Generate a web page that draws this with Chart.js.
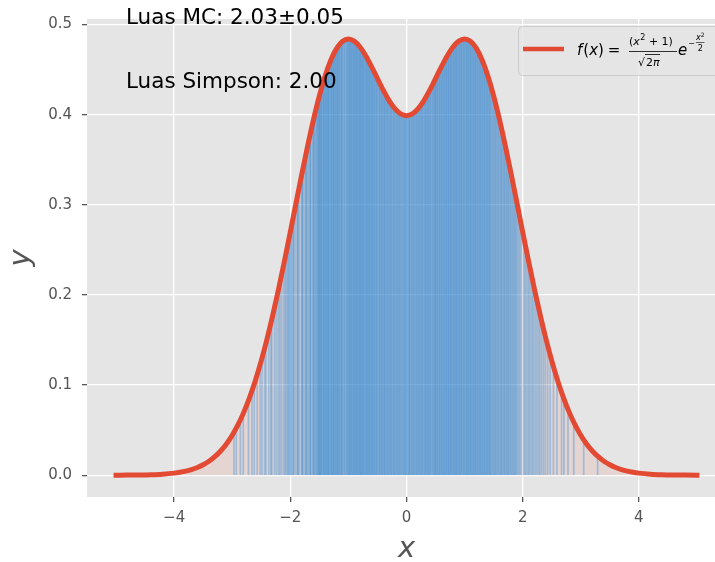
<!DOCTYPE html>
<html><head><meta charset="utf-8">
<script src="https://cdn.jsdelivr.net/npm/chart.js@4/dist/chart.umd.min.js"></script>
<style>html,body{margin:0;padding:0;background:#fff;overflow:hidden}#wrap{width:715px;height:562px;overflow:hidden;position:relative}canvas{display:block}</style>
</head><body><div id="wrap"><canvas id="c" width="726" height="562"></canvas></div>
<script>
// curve f(x) = (x^2+1)/sqrt(2pi) * exp(-x^2/2), sampled values
const curveX = [-5,-4.8,-4.6,-4.4,-4.2,-4,-3.9,-3.8,-3.7,-3.6,-3.5,-3.4,-3.3,-3.2,-3.1,-3,-2.9,-2.8,-2.7,-2.6,-2.5,-2.4,-2.3,-2.2,-2.1,-2,-1.9,-1.8,-1.7,-1.6,-1.5,-1.4,-1.3,-1.2,-1.1,-1,-0.9,-0.8,-0.7,-0.6,-0.5,-0.4,-0.3,-0.2,-0.1,0,0.1,0.2,0.3,0.4,0.5,0.6,0.7,0.8,0.9,1,1.1,1.2,1.3,1.4,1.5,1.6,1.7,1.8,1.9,2,2.1,2.2,2.3,2.4,2.5,2.6,2.7,2.8,2.9,3,3.1,3.2,3.3,3.4,3.5,3.6,3.7,3.8,3.9,4,4.2,4.4,4.6,4.8,5];
const curveY = [0.00004,0.00009,0.00022,0.00051,0.00110,0.00228,0.00322,0.00451,0.00624,0.00854,0.01156,0.01548,0.02048,0.02680,0.03466,0.04432,0.05601,0.06997,0.08639,0.10540,0.12708,0.15139,0.17817,0.20717,0.23795,0.26995,0.30249,0.33475,0.36585,0.39488,0.42093,0.44319,0.46098,0.47381,0.48145,0.48394,0.48162,0.47510,0.46526,0.45319,0.44008,0.42719,0.41571,0.40668,0.40092,0.39894,0.40092,0.40668,0.41571,0.42719,0.44008,0.45319,0.46526,0.47510,0.48162,0.48394,0.48145,0.47381,0.46098,0.44319,0.42093,0.39488,0.36585,0.33475,0.30249,0.26995,0.23795,0.20717,0.17817,0.15139,0.12708,0.10540,0.08639,0.06997,0.05601,0.04432,0.03466,0.02680,0.02048,0.01548,0.01156,0.00854,0.00624,0.00451,0.00322,0.00228,0.00110,0.00051,0.00022,0.00009,0.00004];

// x positions of accepted Monte Carlo samples
const mcX = [-2.97,-2.93,-2.86,-2.81,-2.72,-2.66,-2.62,-2.57,-2.52,
-2.487,-2.443,-2.419,-2.371,-2.336,-2.318,-2.274,-2.241,-2.207,-2.181,-2.152,-2.118,-2.093,-2.071,-2.046,-2.033,-2.012,
-1.994,-1.981,-1.952,-1.947,-1.921,-1.893,-1.871,-1.866,-1.838,-1.802,-1.797,-1.781,-1.755,-1.731,-1.728,-1.704,-1.689,-1.662,-1.659,-1.643,-1.618,-1.604,-1.597,-1.581,-1.566,-1.549,-1.538,-1.527,-1.511,-1.503,
-1.497,-1.484,-1.471,-1.468,-1.452,-1.439,-1.427,-1.421,-1.408,-1.393,-1.387,-1.372,-1.361,-1.349,-1.343,-1.331,-1.318,-1.302,-1.296,-1.284,-1.271,-1.262,-1.249,-1.241,-1.227,-1.214,-1.208,-1.191,-1.183,-1.176,-1.158,-1.149,-1.137,-1.122,-1.113,-1.104,-1.087,-1.072,-1.061,-1.043,-1.029,-1.018,-1.006,
-0.994,-0.981,-0.973,-0.962,-0.948,-0.939,-0.927,-0.913,-0.907,-0.894,-0.882,-0.871,-0.859,-0.851,-0.838,-0.826,-0.817,-0.803,-0.796,-0.784,-0.772,-0.761,-0.749,-0.741,-0.728,-0.716,-0.703,-0.694,-0.682,-0.671,-0.663,-0.648,-0.637,-0.629,-0.614,-0.603,-0.591,-0.583,-0.568,-0.556,-0.547,-0.531,-0.522,-0.509,
-0.496,-0.483,-0.469,-0.458,-0.447,-0.431,-0.423,-0.409,-0.396,-0.384,-0.371,-0.362,-0.348,-0.336,-0.321,-0.313,-0.298,-0.286,-0.271,-0.264,-0.249,-0.233,-0.221,-0.212,-0.197,-0.184,-0.169,-0.158,-0.146,-0.131,-0.122,-0.108,-0.094,-0.081,-0.067,-0.053,-0.041,-0.028,-0.014,-0.006,
0.008,0.021,0.037,0.046,0.059,0.074,0.088,0.097,0.113,0.126,0.138,0.151,0.167,0.178,0.192,0.204,0.217,0.231,0.243,0.256,0.268,0.279,0.294,0.307,0.318,0.333,0.342,0.357,0.369,0.381,0.394,0.406,0.419,0.433,0.447,0.458,0.471,0.486,0.493,
0.504,0.517,0.529,0.538,0.552,0.566,0.574,0.588,0.601,0.612,0.623,0.637,0.646,0.659,0.671,0.684,0.692,0.707,0.718,0.729,0.741,0.753,0.766,0.774,0.788,0.801,0.813,0.822,0.836,0.849,0.857,0.868,0.883,0.894,0.906,0.917,0.929,0.941,0.952,0.966,0.978,0.989,
1.003,1.014,1.027,1.039,1.048,1.062,1.073,1.086,1.097,1.109,1.121,1.132,1.146,1.157,1.168,1.181,1.193,1.204,1.217,1.228,1.241,1.253,1.266,1.277,1.288,1.302,1.313,1.326,1.337,1.349,1.362,1.374,1.386,1.397,1.411,1.423,1.436,1.448,1.461,1.478,1.492,
1.507,1.521,1.536,1.548,1.566,1.579,1.594,1.611,1.626,1.638,1.653,1.671,1.684,1.697,1.716,1.729,1.746,1.758,1.774,1.791,1.806,1.823,1.839,1.857,1.871,1.889,1.906,1.928,1.947,1.972,
2.013,2.038,2.061,2.089,2.112,2.137,2.164,2.186,2.214,2.243,2.271,2.296,2.327,2.359,2.392,2.431,2.474,
2.53,2.59,2.67,2.71,2.78,2.88,3.05,3.29];
const mcTop = 0.5;          // height of the sampling box
const xTicks = [-4,-2,0,2,4];
const yTicks = [0,0.1,0.2,0.3,0.4,0.5];
const textMC = 'Luas MC: 2.03\u00b10.05';
const textSimpson = 'Luas Simpson: 2.00';

Chart.defaults.font.family = '"DejaVu Sans", sans-serif';

const curveData = curveX.map((x,i)=>({x, y: curveY[i]}));
const mcData = [];
mcX.forEach(x => { mcData.push({x, y:0}, {x, y:mcTop}, {x, y:null}); });

const bgPlugin = {
  id:'bg',
  beforeDraw(chart){
    const {ctx, chartArea:a} = chart;
    ctx.save(); ctx.fillStyle = '#E5E5E5';
    ctx.fillRect(a.left, a.top, a.right-a.left, a.bottom-a.top);
    ctx.restore();
  }
};

const clipPlugin = {
  id:'clipUnderCurve',
  beforeDatasetDraw(chart, args){
    if (args.index !== 1) return;
    const ctx = chart.ctx;
    const pts = chart.getDatasetMeta(0).data;
    const y0 = chart.scales.y.getPixelForValue(0);
    ctx.save();
    ctx.beginPath();
    ctx.moveTo(pts[0].x, y0);
    pts.forEach(p => ctx.lineTo(p.x, p.y));
    ctx.lineTo(pts[pts.length-1].x, y0);
    ctx.closePath();
    ctx.clip();
  },
  afterDatasetDraw(chart, args){
    if (args.index !== 1) return;
    chart.ctx.restore();
  }
};

function piece(ctx, txt, font, x, y){
  ctx.font = font; ctx.fillText(txt, x, y);
  return x + ctx.measureText(txt).width;
}

const textPlugin = {
  id:'texts',
  afterDatasetsDraw(chart){
    const ctx = chart.ctx;
    ctx.save();
    ctx.fillStyle = '#000';
    ctx.textAlign = 'left'; ctx.textBaseline = 'alphabetic';
    ctx.font = '21.5px "DejaVu Sans"';
    ctx.fillText(textMC, 126, 24);
    ctx.fillText(textSimpson, 126, 88);

    // legend
    ctx.beginPath();
    ctx.roundRect(518.5, 26.5, 230, 49, 4);
    ctx.fillStyle = 'rgba(229,229,229,0.8)'; ctx.fill();
    ctx.strokeStyle = '#cccccc'; ctx.lineWidth = 1; ctx.stroke();
    ctx.strokeStyle = '#E24A33'; ctx.lineWidth = 4.5; ctx.lineCap = 'butt';
    ctx.beginPath(); ctx.moveTo(523, 49); ctx.lineTo(564, 49); ctx.stroke();

    ctx.fillStyle = '#000';
    const it = 'italic 15px "DejaVu Sans"', rm = '15px "DejaVu Sans"';
    let x = 577;
    x = piece(ctx, 'f', it, x, 55);
    x = piece(ctx, '(', rm, x+1, 55);
    x = piece(ctx, 'x', it, x, 55);
    x = piece(ctx, ')', rm, x, 55);
    x = piece(ctx, '=', rm, x+4, 55);
    // numerator
    const it2 = 'italic 11px "DejaVu Sans"', rm2 = '11px "DejaVu Sans"', sup = '8px "DejaVu Sans"';
    let nx = 629;
    nx = piece(ctx, '(', rm2, nx, 45);
    nx = piece(ctx, 'x', it2, nx, 45);
    nx = piece(ctx, '2', sup, nx+0.5, 40);
    nx = piece(ctx, ' + 1)', rm2, nx, 45);
    ctx.strokeStyle = '#000'; ctx.lineWidth = 0.8;
    ctx.beginPath(); ctx.moveTo(629, 51.5); ctx.lineTo(677, 51.5); ctx.stroke();
    // denominator
    let dx = 638;
    dx = piece(ctx, '\u221a', rm2, dx, 66);
    const sx = dx;
    dx = piece(ctx, '2', rm2, dx+1, 66);
    dx = piece(ctx, '\u03c0', it2, dx, 66);
    ctx.beginPath(); ctx.moveTo(sx, 54.5); ctx.lineTo(dx+0.5, 54.5); ctx.stroke();
    // exponential
    let ex = 678;
    ex = piece(ctx, 'e', it, ex, 55);
    ex = piece(ctx, '\u2212', sup, ex+1, 46);
    let fx = ex + 1;
    let fx2 = piece(ctx, 'x', 'italic 8px "DejaVu Sans"', fx, 40);
    fx2 = piece(ctx, '2', '6px "DejaVu Sans"', fx2, 37);
    ctx.beginPath(); ctx.moveTo(fx, 42.5); ctx.lineTo(fx2, 42.5); ctx.lineWidth = 0.6; ctx.stroke();
    piece(ctx, '2', sup, fx + (fx2-fx)/2 - 2.5, 51);
    ctx.restore();
  }
};

new Chart(document.getElementById('c'), {
  type:'line',
  data:{ datasets:[
    { label:'f(x)', data:curveData, borderColor:'#E24A33', borderWidth:5, pointRadius:0,
      borderCapStyle:'square', cubicInterpolationMode:'monotone',
      fill:'origin', backgroundColor:'rgba(226,74,51,0.1)' },
    { label:'MC', data:mcData, borderColor:'rgba(45,137,214,0.36)', borderWidth:1.7, pointRadius:0,
      fill:false, spanGaps:false, segment:{} }
  ]},
  options:{
    responsive:false, animation:false, devicePixelRatio:1,
    layout:{padding:{top:18, left:0, right:0, bottom:0}},
    plugins:{ legend:{display:false}, tooltip:{enabled:false}, filler:{drawTime:'beforeDatasetsDraw'} },
    scales:{
      x:{ type:'linear', min:-5.5, max:5.5,
        afterFit(s){ s.height = 65; },
        afterBuildTicks(s){ s.ticks = xTicks.map(v=>({value:v})); },
        grid:{ color:'#ffffff', lineWidth:1.3, tickColor:'#555555', tickLength:5, drawTicks:true },
        border:{ display:false },
        ticks:{ color:'#555555', font:{size:15}, padding:7, maxRotation:0, autoSkip:false,
          callback:v => String(v).replace('-', '\u2212') },
        title:{ display:true, text:'x', color:'#555555', font:{size:29, style:'italic', lineHeight:0.86}, padding:0 } },
      y:{ type:'linear', min:-0.0242, max:0.5062,
        afterFit(s){ s.width = 87; },
        afterBuildTicks(s){ s.ticks = yTicks.map(v=>({value:v})); },
        grid:{ color:'#ffffff', lineWidth:1.3, tickColor:'#555555', tickLength:5, drawTicks:true },
        border:{ display:false },
        ticks:{ color:'#555555', font:{size:15}, padding:10, autoSkip:false,
          callback:v => Number(v).toFixed(1) },
        title:{ display:true, text:'y', color:'#555555', font:{size:29, style:'italic'}, padding:{top:4, bottom:0} } }
    }
  },
  plugins:[bgPlugin, clipPlugin, textPlugin]
});
</script></body></html>
